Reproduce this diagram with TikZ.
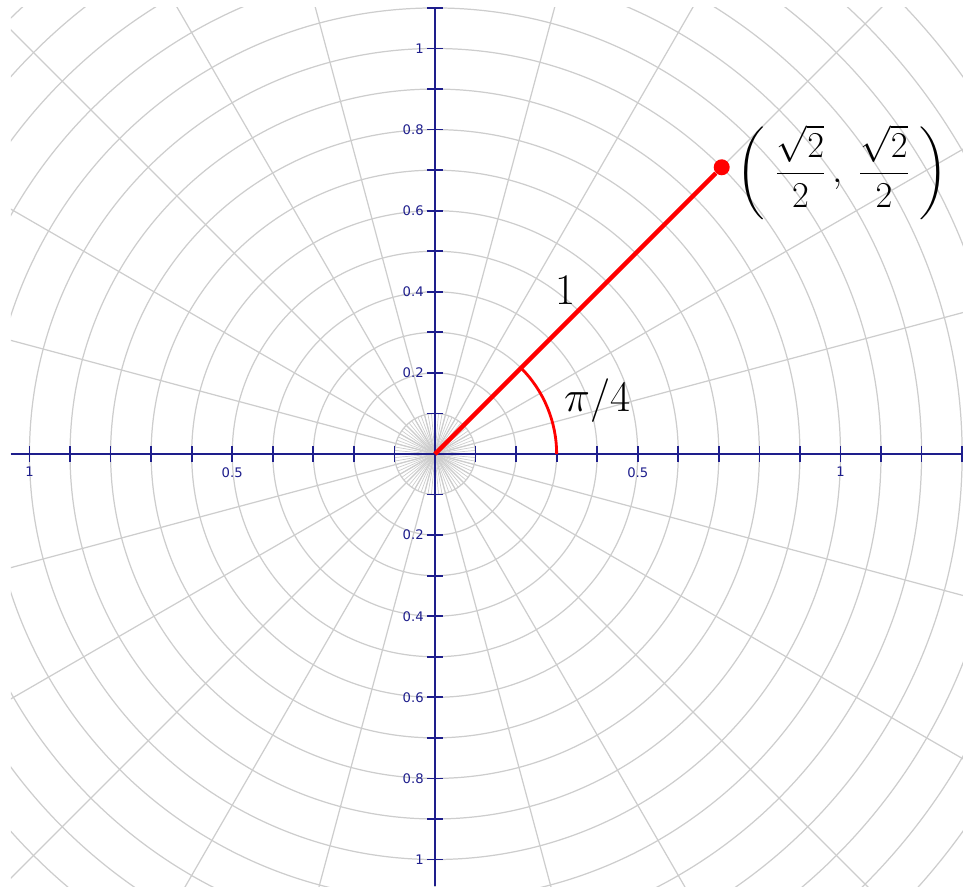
\documentclass[tikz,border=0pt]{standalone}
\usepackage{amsmath,amssymb}
\usepackage{fontspec}
\newfontfamily\tickfont{DejaVu Sans}
\usepackage{tikz}
\usetikzlibrary{arrows.meta,positioning,calc}

\definecolor{axisblue}{RGB}{30,30,140}
\definecolor{gridgray}{RGB}{205,205,205}

\begin{document}
\begin{tikzpicture}[x=8.11cm, y=8.11cm,
    polargrid/.style={gridgray, line width=0.7pt},
    axisline/.style={axisblue, line width=1pt},
    ticklab/.style={axisblue, font=\fontsize{7.5}{9}\tickfont, inner sep=0pt},
    radiusline/.style={red, line width=2.6pt}]
    \useasboundingbox (-1.0727,-1.0654) rectangle (1.3021,1.1196);

    % Polar grid paper
    \begin{scope}
        \clip (-1.0456,-1.0654) rectangle (1.3021,1.1023);
        \foreach \r in {1,...,16} {
            \draw[polargrid] (0,0) circle[radius=\r/10];
        }
        \foreach \a in {0,15,...,345} {
            \draw[polargrid] (0,0) -- (\a:1.7);
        }
        \foreach \a in {0,5,...,355} {
            \draw[polargrid, line width=0.4pt] (0,0) -- (\a:0.1);
        }
    \end{scope}

    % Axes with ticks
    \coordinate (O) at (0,0);
    \coordinate (xmin) at (-1.0456,0);
    \coordinate (xmax) at (1.3021,0);
    \coordinate (ymin) at (0,-1.0654);
    \coordinate (ymax) at (0,1.1023);
    \draw[axisline] (xmin) -- (xmax);
    \draw[axisline] (ymin) -- (ymax);
    \foreach \i in {-10,...,-1,1,2,...,13} {
        \draw[axisline] (\i/10,-0.02) -- (\i/10,0.02);
    }
    \foreach \i in {-10,...,-1,1,2,...,11} {
        \draw[axisline] (-0.02,\i/10) -- (0.02,\i/10);
    }
    \foreach \v/\t [count=\k] in {-1/1,-0.5/0.5,0.5/0.5,1/1} {
        \node[ticklab, anchor=north] (xlab\k) at (\v,-0.032) {\t};
    }
    \foreach \v/\t [count=\k] in {1/1,0.8/0.8,0.6/0.6,0.4/0.4,0.2/0.2,-0.2/0.2,-0.4/0.4,-0.6/0.6,-0.8/0.8,-1/1} {
        \node[ticklab, anchor=east] (ylab\k) at (-0.027,\v) {\t};
    }

    % Unit radius at pi/4
    \node[circle, fill=red, inner sep=0pt, minimum size=0.32cm] (P) at (0.7071,0.7071) {};
    \draw[radiusline] (O) -- (P);
    \coordinate (A) at (0.3,0);
    \draw[red, line width=1.6pt] (A) arc[start angle=0, end angle=45, radius=0.3];

    % Labels
    \node[font=\fontsize{28}{30}\selectfont] (one) at (0.321,0.404) {$1$};
    \node[font=\fontsize{24}{26}\selectfont] (angle) at (0.40,0.133) {$\pi/4$};
    \node[right=0cm of P, yshift=-0.1cm, font=\fontsize{22}{24}\selectfont] (coord)
        {$\left(\;\dfrac{\sqrt{2}}{2}\,,\;\dfrac{\sqrt{2}}{2}\;\right)$};
\end{tikzpicture}
\end{document}
